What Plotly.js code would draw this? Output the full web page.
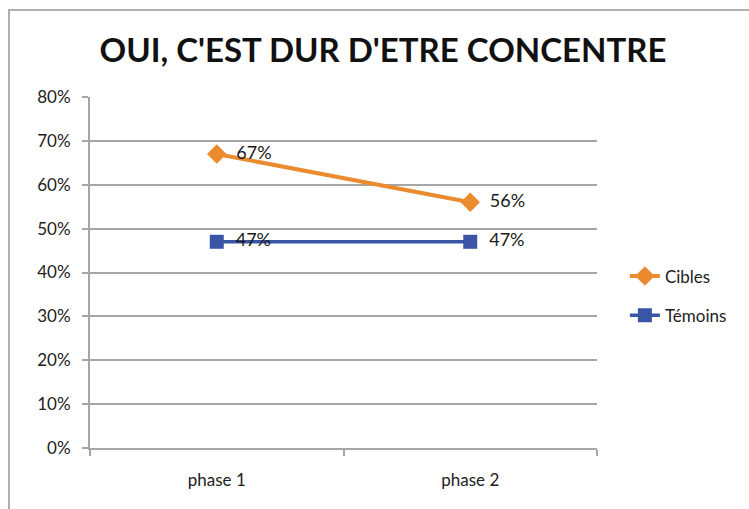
<!DOCTYPE html>
<html>
<head>
<meta charset="utf-8">
<script src="https://cdn.plot.ly/plotly-3.0.1.min.js"></script>
<style>
html,body{margin:0;padding:0;background:#fff;}
#wrap{position:relative;width:749px;height:509px;overflow:hidden;}
#chart{width:749px;height:509px;}
#frame{position:absolute;left:8px;top:9px;width:760px;height:520px;border-left:2px solid #b0b0b0;border-top:2px solid #b0b0b0;pointer-events:none;}
</style>
</head>
<body>
<div id="wrap"><div id="chart"></div><div id="frame"></div></div>
<script>
const categories = ["phase 1", "phase 2"];
const cibles = [0.67, 0.56];
const temoins = [0.47, 0.47];
const seriesNames = ["Cibles", "Témoins"];
const titleText = "OUI, C'EST DUR D'ETRE CONCENTRE";

const font = "Lato, Open Sans, sans-serif";
const pad = "\u00a0\u00a0";
const traces = [
  {
    x: categories, y: cibles, name: seriesNames[0], legendgroup: "a", type: "scatter", mode: "lines+markers+text",
    line: {color: "#EB8B2F", width: 4},
    marker: {symbol: "diamond", size: 15, color: "#EB8B2F"},
    texttemplate: pad + "%{y:.0%}", textposition: "middle right",
    textfont: {family: font, size: 18, color: "#1a1a1a"}, cliponaxis: false
  },
  {
    x: categories, y: temoins, name: seriesNames[1], legendgroup: "b", type: "scatter", mode: "lines+markers+text",
    line: {color: "#3A55A5", width: 3.5},
    marker: {symbol: "square", size: 14, color: "#3A55A5"},
    texttemplate: pad + "%{y:.0%}", textposition: "middle right",
    textfont: {family: font, size: 18, color: "#1a1a1a"}, cliponaxis: false
  }
];

const layout = {
  width: 749, height: 509,
  margin: {l: 90, r: 152, t: 97, b: 61},
  paper_bgcolor: "#fff", plot_bgcolor: "#fff",
  font: {family: font, color: "#333", size: 16},
  title: {text: "<b>" + titleText + "</b>", font: {family: font, size: 33, color: "#111"},
          x: 383/749, xref: "container", xanchor: "center", y: 1 - 50/509, yref: "container", yanchor: "middle"},
  xaxis: {
    type: "category", range: [-0.5, 1.5], showgrid: false,
    showline: true, linecolor: "#a6a6a6", linewidth: 2,
    ticks: "outside", tickson: "boundaries", ticklen: 6, tickcolor: "#a6a6a6", tickwidth: 2,
    ticklabelstandoff: 16,
    tickfont: {family: font, size: 17, color: "#222"}, fixedrange: true
  },
  yaxis: {
    range: [0, 0.8], dtick: 0.1, tickformat: ".0%",
    showgrid: true, gridcolor: "#a6a6a6", gridwidth: 2, zeroline: false,
    showline: true, linecolor: "#a6a6a6", linewidth: 2,
    ticks: "outside", ticklen: 6, tickcolor: "#a6a6a6", tickwidth: 2,
    ticklabelstandoff: 8,
    tickfont: {family: font, size: 17, color: "#222"}, fixedrange: true
  },
  showlegend: true,
  legend: {x: 1.055, xanchor: "left", y: 0.433, yanchor: "middle", traceorder: "grouped",
           font: {family: font, size: 17, color: "#222"}, tracegroupgap: 14}
};

Plotly.newPlot("chart", traces, layout, {displayModeBar: false, staticPlot: true});
</script>
</body>
</html>
